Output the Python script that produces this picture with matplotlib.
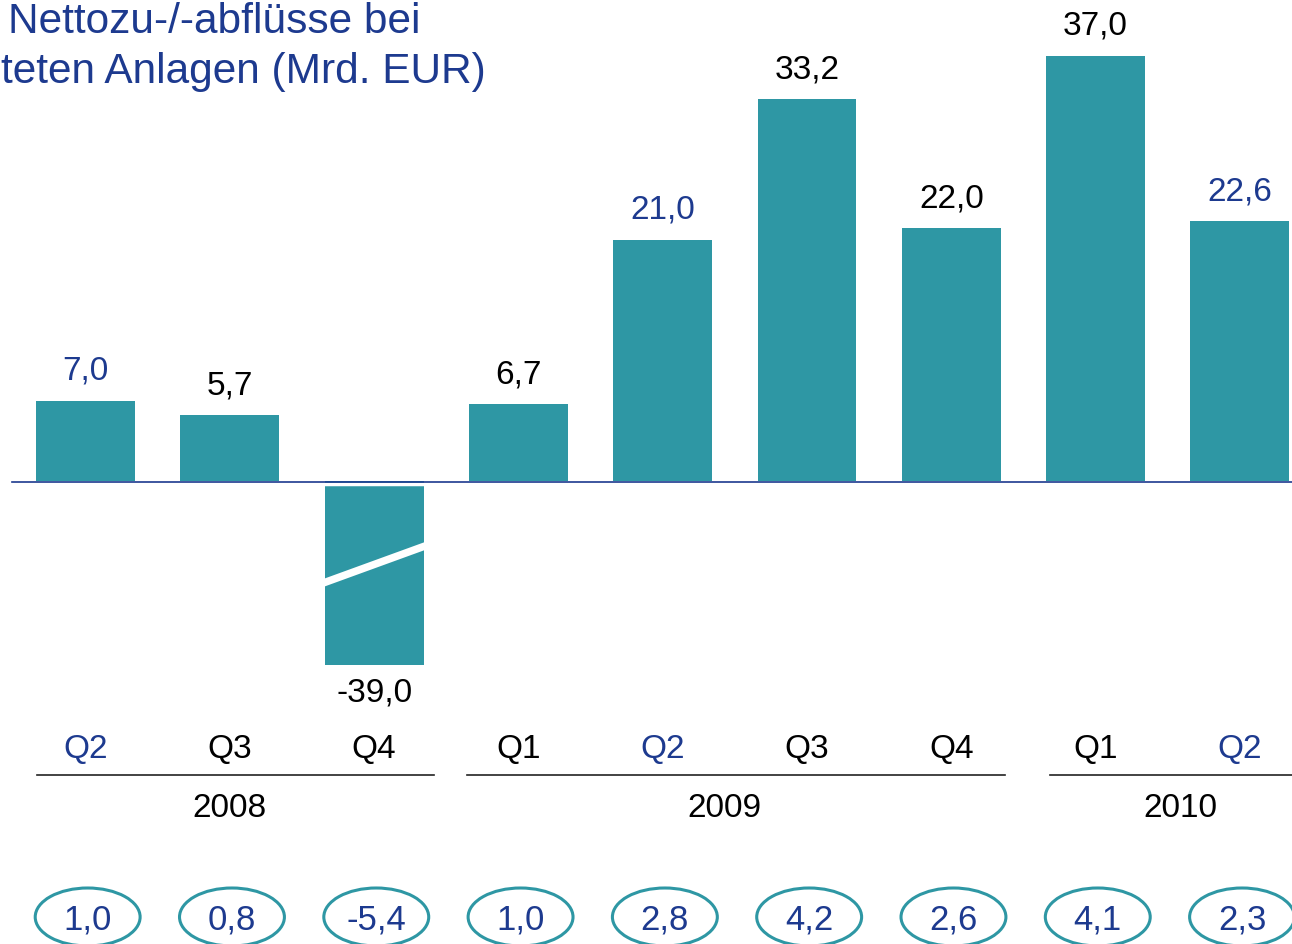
import numpy as np
import matplotlib.pyplot as plt
from matplotlib.patches import Ellipse

plt.rcParams['font.family'] = ['Liberation Sans', 'DejaVu Sans']

quarters = ['Q2', 'Q3', 'Q4', 'Q1', 'Q2', 'Q3', 'Q4', 'Q1', 'Q2']
flows = [7.0, 5.7, -39.0, 6.7, 21.0, 33.2, 22.0, 37.0, 22.6]
ratios = [1.0, 0.8, -5.4, 1.0, 2.8, 4.2, 2.6, 4.1, 2.3]
years = ['2008', '2009', '2010']
year_spans = [(-0.336, 2.415), (2.643, 6.372), (6.684, 8.5)]
year_x = [1.0, 4.43, 7.59]

TEAL = '#2E97A4'
NAVY = '#1D3A8F'
PX_X = 144.3   # pixels per bar slot
PX_Y = 11.5    # pixels per Mrd. EUR
BASE_PX = 481  # baseline row, from top


def py(p):
    # pixel row (from top) -> data y
    return (BASE_PX - p) / PX_Y


def fmt(v):
    return '{:.1f}'.format(v).replace('.', ',')


fig = plt.figure(figsize=(12.92, 9.44), dpi=100)
ax = fig.add_axes([0, 0, 1, 1])
ax.set_xlim(-85.5 / PX_X, (1292 - 85.5) / PX_X)
ax.set_ylim(py(944), py(0))
ax.axis('off')

x = np.arange(len(flows))
axis_cut = py(665)  # negative bar is drawn truncated
shown = [max(v, axis_cut) for v in flows]
width = 0.685
ax.bar(x, shown, width=width, color=TEAL, zorder=2)

# axis break on the truncated bar
for i, v in enumerate(flows):
    if v < axis_cut:
        y0, y1 = py(583), py(546)
        h = 4 / PX_Y
        xl, xr = i - width / 2 - 0.01, i + width / 2 + 0.01
        ax.fill([xl, xr, xr, xl], [y0 - h, y1 - h, y1 + h, y0 + h],
                color='white', zorder=3, lw=0)

# small white gap under the baseline, then the baseline itself
ax.plot([-0.6, 8.5], [py(483.5), py(483.5)], color='white', lw=2.5, zorder=3)
ax.plot([-0.509, 8.5], [py(482), py(482)], color=NAVY, lw=1.2, zorder=4)

label_colors = [NAVY if q == 'Q2' else 'black' for q in quarters]
for i, (v, s) in enumerate(zip(flows, shown)):
    if v >= 0:
        ax.annotate(fmt(v), (i, s), xytext=(0, 15), textcoords='offset points',
                    ha='center', va='baseline', fontsize=24, color=label_colors[i])
    else:
        ax.annotate(fmt(v), (i, s), xytext=(0, -9), textcoords='offset points',
                    ha='center', va='top', fontsize=24, color=label_colors[i])

for i, q in enumerate(quarters):
    ax.text(i, py(758), q, ha='center', va='baseline', fontsize=24,
            color=label_colors[i])

for yr, (x0, x1), xt in zip(years, year_spans, year_x):
    ax.plot([x0, x1], [py(775), py(775)], color='#222222', lw=1.2)
    ax.text(xt, py(817), yr, ha='center', va='baseline',
            fontsize=24, color='black')

for i, r in enumerate(ratios):
    ax.add_patch(Ellipse((i + 0.015, py(917)), 0.727, 58 / PX_Y, fill=False,
                         edgecolor=TEAL, lw=2.2))
    ax.text(i + 0.015, py(930), fmt(r), ha='center', va='baseline',
            fontsize=25, color=NAVY)

fig.text(8 / 1292, 1 - 22 / 944, 'Nettozu-/-abflüsse bei', ha='left',
         va='center', fontsize=30.5, color=NAVY)
fig.text(1 / 1292, 1 - 72 / 944, 'teten Anlagen (Mrd. EUR)', ha='left',
         va='center', fontsize=30.5, color=NAVY)

plt.savefig('out.png', dpi=100)
plt.close(fig)
